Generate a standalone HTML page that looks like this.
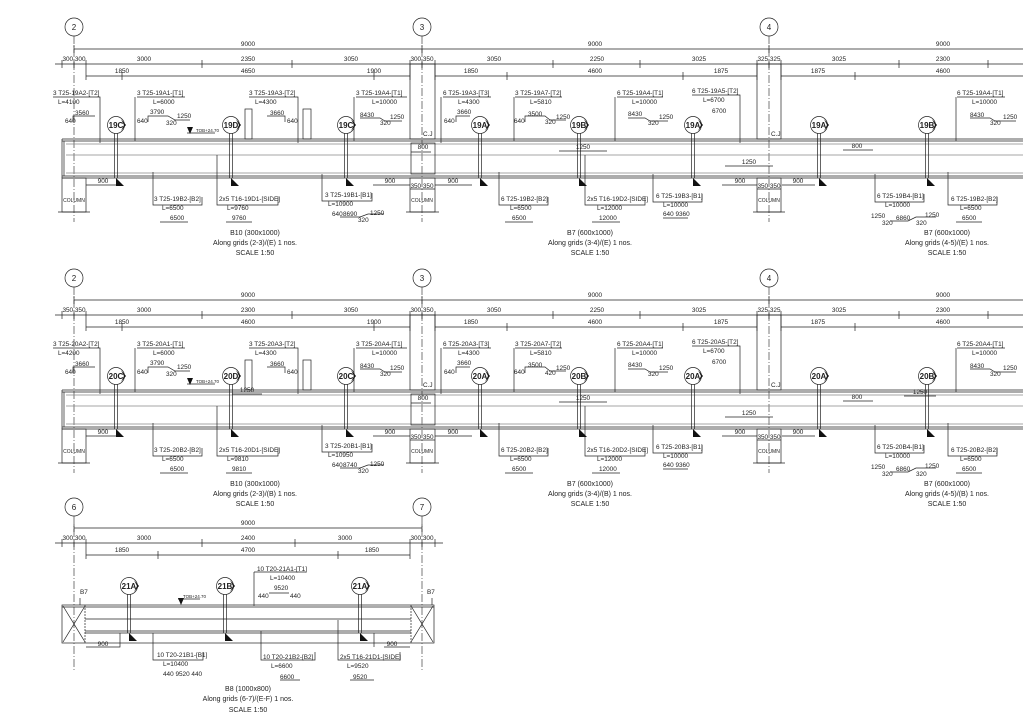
<!DOCTYPE html>
<html><head><meta charset="utf-8"><style>
html,body{margin:0;padding:0;background:#fff;}
svg{display:block;}
text{font-family:"Liberation Sans",sans-serif;font-size:6.4px;fill:#222;}
.c{text-anchor:middle;}
.t{font-size:7px;}
.g{font-size:8px;}
.b{font-size:8px;font-weight:bold;}
line,polyline,rect,path,circle{stroke:#222;stroke-width:0.7;fill:none;}
.d{stroke-dasharray:8 2 1 2;stroke-width:0.6;}
.gr{stroke:#888;}
.f{fill:#111;stroke:none;}
</style></head><body>
<svg width="1023" height="723" viewBox="0 0 1023 723" xmlns="http://www.w3.org/2000/svg">
<defs>
<g id="mk">
 <circle cx="0" cy="0" r="8.5" fill="#fff"/>
 <polygon class="f" points="5,-6 10,0 5,6 8,0"/>
 <line x1="-1.5" y1="8.5" x2="-1.5" y2="53"/><line x1="1.5" y1="8.5" x2="1.5" y2="53"/>
 <polygon class="f" points="0,53 0,61 8,61"/>
</g>
<g id="mk3">
 <circle cx="0" cy="0" r="8.5" fill="#fff"/>
 <polygon class="f" points="5,-6 10,0 5,6 8,0"/>
 <line x1="-1.5" y1="8.5" x2="-1.5" y2="47"/><line x1="1.5" y1="8.5" x2="1.5" y2="47"/>
 <polygon class="f" points="0,47 0,55 8,55"/>
</g>
<g id="frame">
 <!-- grid lines -->
 <line class="d" x1="74" y1="36" x2="74" y2="222"/>
 <line class="d" x1="422" y1="36" x2="422" y2="222"/>
 <line class="d" x1="769" y1="36" x2="769" y2="222"/>
 <circle cx="74" cy="27" r="9"/><circle cx="422" cy="27" r="9"/><circle cx="769" cy="27" r="9"/>
 <!-- dim lines -->
 <line x1="74" y1="49" x2="1023" y2="49"/>
 <line x1="74" y1="45" x2="74" y2="53"/><line x1="422" y1="45" x2="422" y2="53"/><line x1="769" y1="45" x2="769" y2="53"/>
 <line x1="55" y1="64" x2="1023" y2="64"/>
 <path d="M62 60V68M74 60V68M86 60V80M202 60V68M292 60V68M410 60V80M422 60V68M435 60V80M553 60V68M640 60V68M757 60V80M769 60V68M781 60V80M899 60V68M988 60V68"/>
 <line x1="86" y1="76" x2="410" y2="76"/><line x1="435" y1="76" x2="757" y2="76"/><line x1="781" y1="76" x2="1023" y2="76"/>
 <path d="M122 72V80M374 72V80M507 72V80M683 72V80M855 72V80"/>
 <!-- column extensions above beam -->
 <rect x="410" y="64" width="25" height="75"/>
 <rect x="757" y="64" width="24" height="75"/>
 <rect x="245" y="109" width="7" height="30"/><rect x="303" y="109" width="8" height="30"/>
 <!-- beam -->
 <line x1="62" y1="139" x2="1023" y2="139"/>
 <line x1="62" y1="141" x2="1023" y2="141"/>
 <line x1="62" y1="176" x2="1023" y2="176"/>
 <line x1="62" y1="178" x2="1023" y2="178"/>
 <line x1="62" y1="139" x2="62" y2="178"/><line x1="64" y1="141" x2="64" y2="176"/>
 <line class="gr" x1="66" y1="144" x2="1023" y2="144"/>
 <line class="gr" x1="66" y1="155" x2="1023" y2="155"/>
 <line class="gr" x1="66" y1="173" x2="1023" y2="173"/>
 <rect x="411" y="143" width="24" height="31"/>
 <!-- columns -->
 <rect x="62" y="178" width="24" height="34"/>
 <rect x="410" y="178" width="25" height="34"/>
 <rect x="757" y="178" width="24" height="34"/>
 <path d="M58 212H90M406 212H439M753 212H785"/>
 <!-- 900 dims -->
 <path d="M86 185H120M373 185H410M435 185H472M722 185H757M782 185H815M410 189H435M757 189H781"/>
 <!-- inner dims -->
 <path d="M411 152H431M559 151H607M725 166H773M843 150H873"/>
 <!-- leaders -->
 <path d="M53 97H100V143M137 97H185M135 97V141M249 97H298V143M356 97H407M354 97V141M443 97H491M441 97V143M515 97H562M514 97V141M617 97H663M615 97V141M692 95H740V143M957 97H1005M956 97V141"/>
 <path d="M153 172V205H202V197M217 155V205H278V197M322 174V201H372V193M499 172V205H548V197M585 155V205H645V197M653 174V202H702V194M875 174V202H924V194M948 172V205H997V197"/>
 <!-- small bar shapes -->
 <path d="M73 122V116H95M148 122V116H168L175 120H190M267 116H285V122M360 118H380L385 121H402M456 122V116H470M525 122V116H545L550 120H566M628 118H645L650 121H668M970 118H990L995 121H1016"/>
 <path d="M160 222H188M226 222H252M340 217H360L368 214H384M505 222H533M592 222H620M663 218H688M890 221H908L916 217H936M956 222H982"/>
 <polygon class="f" points="187,127 193,127 190,134"/>
 <line x1="187" y1="133" x2="215" y2="133"/>
</g>
</defs>

<!-- ========== PANEL 1 ========== -->
<use href="#frame"/>
<text class="g c" x="74" y="30">2</text><text class="g c" x="422" y="30">3</text><text class="g c" x="769" y="30">4</text>
<text class="c" x="248" y="46">9000</text><text class="c" x="595" y="46">9000</text><text class="c" x="943" y="46">9000</text>
<text class="c" x="74" y="61">300 300</text><text class="c" x="144" y="61">3000</text><text class="c" x="248" y="61">2350</text><text class="c" x="351" y="61">3050</text><text class="c" x="422" y="61">300 350</text><text class="c" x="494" y="61">3050</text><text class="c" x="597" y="61">2250</text><text class="c" x="699" y="61">3025</text><text class="c" x="769" y="61">325 325</text><text class="c" x="839" y="61">3025</text><text class="c" x="943" y="61">2300</text>
<text class="c" x="122" y="73">1850</text><text class="c" x="248" y="73">4650</text><text class="c" x="374" y="73">1900</text><text class="c" x="471" y="73">1850</text><text class="c" x="595" y="73">4600</text><text class="c" x="721" y="73">1875</text><text class="c" x="818" y="73">1875</text><text class="c" x="943" y="73">4600</text>
<text x="53" y="95">3 T25-19A2-[T2]</text><text x="58" y="104">L=4100</text><text x="75" y="115">3560</text><text x="65" y="123">640</text>
<text x="137" y="95">3 T25-19A1-[T1]</text><text x="153" y="104">L=6000</text><text x="150" y="114">3790</text><text x="177" y="118">1250</text><text x="166" y="125">320</text><text x="137" y="123">640</text>
<text x="249" y="95">3 T25-19A3-[T2]</text><text x="255" y="104">L=4300</text><text x="270" y="115">3660</text><text x="287" y="123">640</text>
<text x="356" y="95">3 T25-19A4-[T1]</text><text x="372" y="104">L=10000</text><text x="360" y="117">8430</text><text x="390" y="119">1250</text><text x="380" y="125">320</text>
<text x="443" y="95">6 T25-19A3-[T3]</text><text x="458" y="104">L=4300</text><text x="457" y="114">3660</text><text x="444" y="123">640</text>
<text x="515" y="95">3 T25-19A7-[T2]</text><text x="530" y="104">L=5810</text><text x="528" y="116">3500</text><text x="556" y="119">1250</text><text x="545" y="124">320</text><text x="514" y="123">640</text>
<text x="617" y="95">6 T25-19A4-[T1]</text><text x="632" y="104">L=10000</text><text x="628" y="116">8430</text><text x="659" y="119">1250</text><text x="648" y="125">320</text>
<text x="692" y="93">6 T25-19A5-[T2]</text><text x="703" y="102">L=6700</text><text x="712" y="113">6700</text>
<text x="957" y="95">6 T25-19A4-[T1]</text><text x="972" y="104">L=10000</text><text x="970" y="117">8430</text><text x="1003" y="119">1250</text><text x="990" y="125">320</text>
<text x="196" y="132" style="font-size:4.5px">TOB+24.70</text>
<text x="423" y="136">C.J</text><text x="771" y="136">C.J</text>
<use href="#mk" x="116" y="125"/><use href="#mk" x="231" y="125"/><use href="#mk" x="346" y="125"/><use href="#mk" x="480" y="125"/><use href="#mk" x="579" y="125"/><use href="#mk" x="693" y="125"/><use href="#mk" x="819" y="125"/><use href="#mk" x="927" y="125"/>
<text class="b c" x="116" y="128">19C</text><text class="b c" x="231" y="128">19D</text><text class="b c" x="346" y="128">19C</text><text class="b c" x="480" y="128">19A</text><text class="b c" x="579" y="128">19B</text><text class="b c" x="693" y="128">19A</text><text class="b c" x="819" y="128">19A</text><text class="b c" x="927" y="128">19B</text>
<text class="c" x="423" y="149">800</text><text class="c" x="583" y="149">1250</text><text class="c" x="749" y="164">1250</text><text class="c" x="857" y="148">800</text>
<text class="c" x="103" y="183">900</text><text class="c" x="390" y="183">900</text><text class="c" x="453" y="183">900</text><text class="c" x="740" y="183">900</text><text class="c" x="798" y="183">900</text>
<text class="c" x="422" y="188">350 350</text><text class="c" x="769" y="188">350 350</text>
<text class="c" x="74" y="202" style="font-size:5px">COLUMN</text><text class="c" x="422" y="202" style="font-size:5px">COLUMN</text><text class="c" x="769" y="202" style="font-size:5px">COLUMN</text>
<text x="154" y="201">3 T25-19B2-[B2]</text><text x="162" y="210">L=6500</text><text x="170" y="220">6500</text>
<text x="219" y="201">2x5 T16-19D1-[SIDE]</text><text x="227" y="210">L=9760</text><text x="232" y="220">9760</text>
<text x="325" y="197">3 T25-19B1-[B1]</text><text x="328" y="206">L=10900</text><text x="332" y="216">640</text><text x="343" y="216">8690</text><text x="370" y="215">1250</text><text x="358" y="222">320</text>
<text x="501" y="201">6 T25-19B2-[B2]</text><text x="510" y="210">L=6500</text><text x="512" y="220">6500</text>
<text x="587" y="201">2x5 T16-19D2-[SIDE]</text><text x="597" y="210">L=12000</text><text x="599" y="220">12000</text>
<text x="656" y="198">6 T25-19B3-[B1]</text><text x="663" y="207">L=10000</text><text x="663" y="216">640 9360</text>
<text x="877" y="198">6 T25-19B4-[B1]</text><text x="885" y="207">L=10000</text><text x="871" y="218">1250</text><text x="896" y="220">6860</text><text x="925" y="217">1250</text><text x="882" y="225">320</text><text x="916" y="225">320</text>
<text x="951" y="201">6 T25-19B2-[B2]</text><text x="960" y="210">L=6500</text><text x="962" y="220">6500</text>
<text class="t c" x="255" y="235">B10 (300x1000)</text><text class="t c" x="255" y="245">Along grids (2-3)/(E) 1 nos.</text><text class="t c" x="255" y="255">SCALE  1:50</text>
<text class="t c" x="590" y="235">B7 (600x1000)</text><text class="t c" x="590" y="245">Along grids (3-4)/(E) 1 nos.</text><text class="t c" x="590" y="255">SCALE  1:50</text>
<text class="t c" x="947" y="235">B7 (600x1000)</text><text class="t c" x="947" y="245">Along grids (4-5)/(E) 1 nos.</text><text class="t c" x="947" y="255">SCALE  1:50</text>

<!-- ========== PANEL 2 ========== -->
<g transform="translate(0,251)">
<use href="#frame"/>
<path d="M232 143H262M904 145H936"/>
<text class="g c" x="74" y="30">2</text><text class="g c" x="422" y="30">3</text><text class="g c" x="769" y="30">4</text>
<text class="c" x="248" y="46">9000</text><text class="c" x="595" y="46">9000</text><text class="c" x="943" y="46">9000</text>
<text class="c" x="74" y="61">350 350</text><text class="c" x="144" y="61">3000</text><text class="c" x="248" y="61">2300</text><text class="c" x="351" y="61">3050</text><text class="c" x="422" y="61">300 350</text><text class="c" x="494" y="61">3050</text><text class="c" x="597" y="61">2250</text><text class="c" x="699" y="61">3025</text><text class="c" x="769" y="61">325 325</text><text class="c" x="839" y="61">3025</text><text class="c" x="943" y="61">2300</text>
<text class="c" x="122" y="73">1850</text><text class="c" x="248" y="73">4600</text><text class="c" x="374" y="73">1900</text><text class="c" x="471" y="73">1850</text><text class="c" x="595" y="73">4600</text><text class="c" x="721" y="73">1875</text><text class="c" x="818" y="73">1875</text><text class="c" x="943" y="73">4600</text>
<text x="53" y="95">3 T25-20A2-[T2]</text><text x="58" y="104">L=4200</text><text x="75" y="115">3660</text><text x="65" y="123">640</text>
<text x="137" y="95">3 T25-20A1-[T1]</text><text x="153" y="104">L=6000</text><text x="150" y="114">3790</text><text x="177" y="118">1250</text><text x="166" y="125">320</text><text x="137" y="123">640</text>
<text x="249" y="95">3 T25-20A3-[T2]</text><text x="255" y="104">L=4300</text><text x="270" y="115">3660</text><text x="287" y="123">640</text>
<text x="356" y="95">3 T25-20A4-[T1]</text><text x="372" y="104">L=10000</text><text x="360" y="117">8430</text><text x="390" y="119">1250</text><text x="380" y="125">320</text>
<text x="443" y="95">6 T25-20A3-[T3]</text><text x="458" y="104">L=4300</text><text x="457" y="114">3660</text><text x="444" y="123">640</text>
<text x="515" y="95">3 T25-20A7-[T2]</text><text x="530" y="104">L=5810</text><text x="528" y="116">3500</text><text x="556" y="119">1250</text><text x="545" y="124">420</text><text x="514" y="123">640</text>
<text x="617" y="95">6 T25-20A4-[T1]</text><text x="632" y="104">L=10000</text><text x="628" y="116">8430</text><text x="659" y="119">1250</text><text x="648" y="125">320</text>
<text x="692" y="93">6 T25-20A5-[T2]</text><text x="703" y="102">L=6700</text><text x="712" y="113">6700</text>
<text x="957" y="95">6 T25-20A4-[T1]</text><text x="972" y="104">L=10000</text><text x="970" y="117">8430</text><text x="1003" y="119">1250</text><text x="990" y="125">320</text>
<text x="196" y="132" style="font-size:4.5px">TOB+24.70</text>
<text x="423" y="136">C.J</text><text x="771" y="136">C.J</text>
<use href="#mk" x="116" y="125"/><use href="#mk" x="231" y="125"/><use href="#mk" x="346" y="125"/><use href="#mk" x="480" y="125"/><use href="#mk" x="579" y="125"/><use href="#mk" x="693" y="125"/><use href="#mk" x="819" y="125"/><use href="#mk" x="927" y="125"/>
<text class="b c" x="116" y="128">20C</text><text class="b c" x="231" y="128">20D</text><text class="b c" x="346" y="128">20C</text><text class="b c" x="480" y="128">20A</text><text class="b c" x="579" y="128">20B</text><text class="b c" x="693" y="128">20A</text><text class="b c" x="819" y="128">20A</text><text class="b c" x="927" y="128">20B</text>
<text class="c" x="247" y="141">1250</text><text class="c" x="423" y="149">800</text><text class="c" x="583" y="149">1250</text><text class="c" x="749" y="164">1250</text><text class="c" x="857" y="148">800</text><text class="c" x="920" y="143">1250</text>
<text class="c" x="103" y="183">900</text><text class="c" x="390" y="183">900</text><text class="c" x="453" y="183">900</text><text class="c" x="740" y="183">900</text><text class="c" x="798" y="183">900</text>
<text class="c" x="422" y="188">350 350</text><text class="c" x="769" y="188">350 350</text>
<text class="c" x="74" y="202" style="font-size:5px">COLUMN</text><text class="c" x="422" y="202" style="font-size:5px">COLUMN</text><text class="c" x="769" y="202" style="font-size:5px">COLUMN</text>
<text x="154" y="201">3 T25-20B2-[B2]</text><text x="162" y="210">L=6500</text><text x="170" y="220">6500</text>
<text x="219" y="201">2x5 T16-20D1-[SIDE]</text><text x="227" y="210">L=9810</text><text x="232" y="220">9810</text>
<text x="325" y="197">3 T25-20B1-[B1]</text><text x="328" y="206">L=10950</text><text x="332" y="216">640</text><text x="343" y="216">8740</text><text x="370" y="215">1250</text><text x="358" y="222">320</text>
<text x="501" y="201">6 T25-20B2-[B2]</text><text x="510" y="210">L=6500</text><text x="512" y="220">6500</text>
<text x="587" y="201">2x5 T16-20D2-[SIDE]</text><text x="597" y="210">L=12000</text><text x="599" y="220">12000</text>
<text x="656" y="198">6 T25-20B3-[B1]</text><text x="663" y="207">L=10000</text><text x="663" y="216">640 9360</text>
<text x="877" y="198">6 T25-20B4-[B1]</text><text x="885" y="207">L=10000</text><text x="871" y="218">1250</text><text x="896" y="220">6860</text><text x="925" y="217">1250</text><text x="882" y="225">320</text><text x="916" y="225">320</text>
<text x="951" y="201">6 T25-20B2-[B2]</text><text x="960" y="210">L=6500</text><text x="962" y="220">6500</text>
<text class="t c" x="255" y="235">B10 (300x1000)</text><text class="t c" x="255" y="245">Along grids (2-3)/(B) 1 nos.</text><text class="t c" x="255" y="255">SCALE  1:50</text>
<text class="t c" x="590" y="235">B7 (600x1000)</text><text class="t c" x="590" y="245">Along grids (3-4)/(B) 1 nos.</text><text class="t c" x="590" y="255">SCALE  1:50</text>
<text class="t c" x="947" y="235">B7 (600x1000)</text><text class="t c" x="947" y="245">Along grids (4-5)/(B) 1 nos.</text><text class="t c" x="947" y="255">SCALE  1:50</text>
</g>

<!-- ========== PANEL 3 ========== -->
<line class="d" x1="74" y1="516" x2="74" y2="672"/>
<line class="d" x1="422" y1="516" x2="422" y2="672"/>
<circle cx="74" cy="507" r="9"/><circle cx="422" cy="507" r="9"/>
<text class="g c" x="74" y="510">6</text><text class="g c" x="422" y="510">7</text>
<line x1="74" y1="528" x2="422" y2="528"/><path d="M74 524V532M422 524V532"/>
<text class="c" x="248" y="525">9000</text>
<line x1="55" y1="543" x2="443" y2="543"/>
<path d="M62 539V547M74 539V547M86 539V559M202 539V547M295 539V547M410 539V559M422 539V547M435 539V547"/>
<line x1="86" y1="555" x2="410" y2="555"/><path d="M158 551V559M338 551V559"/>
<text class="c" x="74" y="540">300 300</text><text class="c" x="144" y="540">3000</text><text class="c" x="248" y="540">2400</text><text class="c" x="345" y="540">3000</text><text class="c" x="422" y="540">300 300</text>
<text class="c" x="122" y="552">1850</text><text class="c" x="248" y="552">4700</text><text class="c" x="372" y="552">1850</text>
<rect x="62" y="605" width="372" height="38"/>
<line x1="62" y1="607" x2="434" y2="607"/>
<line x1="85" y1="619" x2="411" y2="619"/>
<line x1="85" y1="633" x2="411" y2="633"/>
<line x1="85" y1="631" x2="411" y2="631"/>
<line x1="85" y1="605" x2="85" y2="643" style="stroke-dasharray:2 1"/><line x1="411" y1="605" x2="411" y2="643" style="stroke-dasharray:2 1"/>
<path d="M63 606L85 642M85 606L63 642M411 606L433 642M433 606L411 642"/>
<path d="M80 598V605M432 598V605"/>
<text x="80" y="594">B7</text><text x="427" y="594">B7</text>
<polygon class="f" points="178,598 184,598 181,605"/><line x1="178" y1="599" x2="200" y2="599"/>
<text x="183" y="598" style="font-size:4.5px">TOB+24.70</text>
<use href="#mk3" x="129" y="586"/><use href="#mk3" x="225" y="586"/><use href="#mk3" x="360" y="586"/>
<text class="b c" x="129" y="589">21A</text><text class="b c" x="225" y="589">21B</text><text class="b c" x="360" y="589">21A</text>
<path d="M254 572H306M254 572V606M269 593H289"/>
<text x="257" y="571">10 T20-21A1-[T1]</text><text x="270" y="580">L=10400</text><text x="274" y="590">9520</text><text x="258" y="598">440</text><text x="290" y="598">440</text>
<path d="M86 647H120V633M384 647H410M374 647V633"/>
<text class="c" x="103" y="646">900</text><text class="c" x="392" y="646">900</text>
<path d="M153 633V660H203V652M261 631V660H315V652M338 620V660H400V652M280 680H300M350 680H374"/>
<text x="157" y="657">10 T20-21B1-[B1]</text><text x="163" y="666">L=10400</text><text x="163" y="676">440 9520 440</text>
<text x="263" y="659">10 T20-21B2-[B2]</text><text x="271" y="668">L=6600</text><text x="280" y="679">6600</text>
<text x="340" y="659">2x5 T16-21D1-[SIDE]</text><text x="347" y="668">L=9520</text><text x="353" y="679">9520</text>
<text class="t c" x="248" y="691">B8 (1000x800)</text><text class="t c" x="248" y="701">Along grids (6-7)/(E-F) 1 nos.</text><text class="t c" x="248" y="712">SCALE  1:50</text>
</svg>
</body></html>
